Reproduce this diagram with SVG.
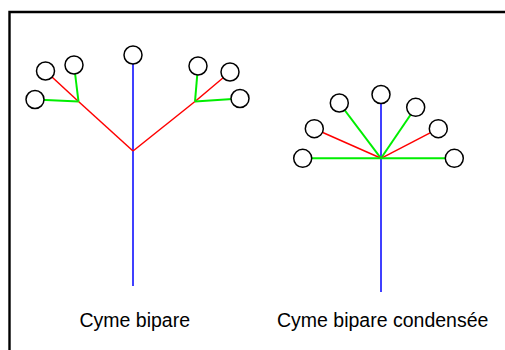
<svg xmlns="http://www.w3.org/2000/svg" width="505" height="350" viewBox="0 0 505 350">
<style>
.stem{stroke:#0000ff;stroke-width:1.5;fill:none}
.red{stroke:#ff0000;stroke-width:1.5;fill:none}
.grn{stroke:#00ee00;stroke-width:2;fill:none}
.fl{fill:#fff;stroke:#000;stroke-width:1.5}
.lbl{font-family:"Liberation Sans",Arial,sans-serif;font-size:19.5px;fill:#000}
</style>
<rect x="0" y="0" width="505" height="350" fill="#fff"/>
<path d="M9.5 352 V12 H507" fill="none" stroke="#000" stroke-width="2.4"/>
<g id="connectors">
<line class="stem" x1="133" y1="55" x2="133" y2="286"/>
<line class="red" x1="133" y1="151" x2="78.5" y2="101.5"/>
<line class="red" x1="78.5" y1="101.5" x2="45.5" y2="71"/>
<line class="grn" x1="78.5" y1="101.5" x2="74" y2="65"/>
<line class="grn" x1="78.5" y1="101.5" x2="35" y2="99.5"/>
<line class="red" x1="133" y1="151" x2="195" y2="101.5"/>
<line class="red" x1="195" y1="101.5" x2="230" y2="72"/>
<line class="grn" x1="195" y1="101.5" x2="198" y2="66"/>
<line class="grn" x1="195" y1="101.5" x2="240" y2="98.5"/>
<line class="stem" x1="381" y1="94.5" x2="381" y2="292"/>
<line class="grn" x1="381" y1="158.3" x2="339.3" y2="103"/>
<line class="grn" x1="381" y1="158.3" x2="415.7" y2="107.3"/>
<line class="red" x1="381" y1="158.3" x2="314.3" y2="128.7"/>
<line class="red" x1="381" y1="158.3" x2="438.3" y2="128.7"/>
<line class="grn" x1="381" y1="158.3" x2="302.7" y2="158.3"/>
<line class="grn" x1="381" y1="158.3" x2="454.3" y2="158.3"/>
</g>
<g id="cyme-bipare">
<circle class="fl" cx="133" cy="55" r="9"/>
<circle class="fl" cx="45.5" cy="71" r="9"/>
<circle class="fl" cx="74" cy="65" r="9"/>
<circle class="fl" cx="35" cy="99.5" r="9"/>
<circle class="fl" cx="198" cy="66" r="9"/>
<circle class="fl" cx="230" cy="72" r="9"/>
<circle class="fl" cx="240" cy="98.5" r="9"/>
<text class="lbl" x="79.5" y="326.5">Cyme bipare</text>
</g>
<g id="cyme-bipare-condensee">
<circle class="fl" cx="381" cy="94.5" r="9"/>
<circle class="fl" cx="339.3" cy="103" r="9"/>
<circle class="fl" cx="415.7" cy="107.3" r="9"/>
<circle class="fl" cx="314.3" cy="128.7" r="9"/>
<circle class="fl" cx="438.3" cy="128.7" r="9"/>
<circle class="fl" cx="302.7" cy="158.3" r="9"/>
<circle class="fl" cx="454.3" cy="158.3" r="9"/>
<text class="lbl" x="277" y="326.5">Cyme bipare condensée</text>
</g>
</svg>
